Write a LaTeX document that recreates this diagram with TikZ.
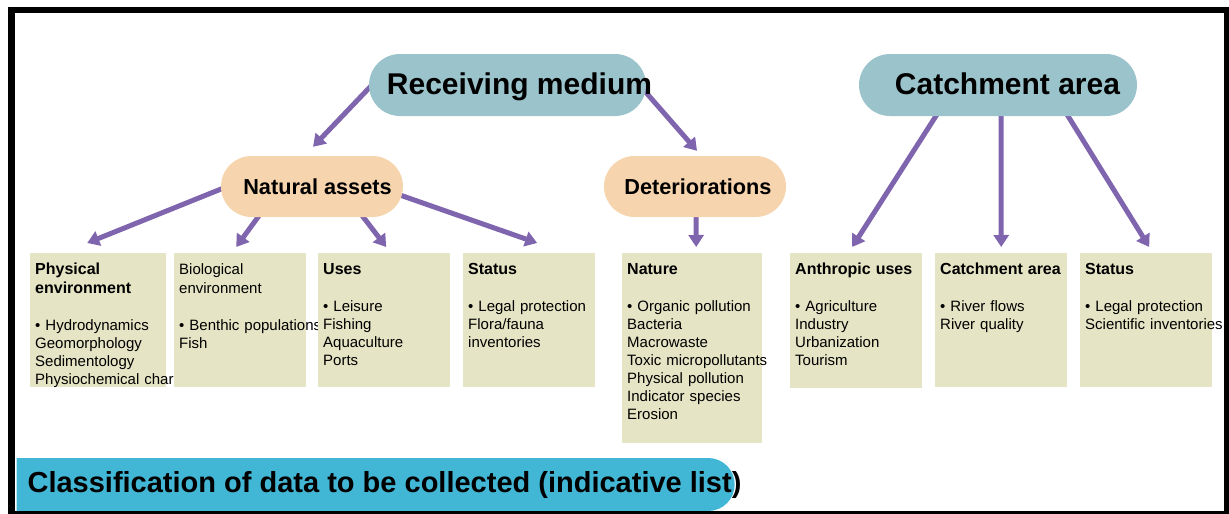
\documentclass[tikz,border=0pt]{standalone}
\usepackage{fontspec}
\setmainfont{Liberation Sans}
\usetikzlibrary{arrows.meta,shapes.misc,calc}
\pgfdeclarelayer{background}
\pgfsetlayers{background,main}

\definecolor{pillblue}{HTML}{9BC3CB}
\definecolor{peach}{HTML}{F6D4AE}
\definecolor{boxtan}{HTML}{E5E4C4}
\definecolor{linkpurple}{HTML}{7F64AE}
\definecolor{barblue}{HTML}{41B7D5}

% text set off-centre inside a fixed-size shape
\newcommand\offsettext[2]{\hspace*{#1}\makebox[0pt]{#2}}
\newcommand\boxhead[1]{{\fontsize{16}{18}\selectfont\bfseries #1}}
\newcommand\firstline{\rule{0pt}{21pt}}

\tikzset{
  toppill/.style={rounded rectangle, fill=pillblue, inner sep=0pt,
    minimum height=62pt, text height=22pt, text depth=2.5pt,
    font=\fontsize{30}{36}\selectfont\bfseries},
  midpill/.style={rounded rectangle, fill=peach, inner sep=0pt,
    minimum height=61pt, minimum width=182pt,
    font=\fontsize{21.7}{26}\selectfont\bfseries},
  databox/.style={anchor=north west, fill=boxtan, inner sep=0pt,
    minimum width=132pt, minimum height=134pt},
  boxtext/.style={anchor=north west, inner xsep=5pt, inner ysep=0pt,
    text width=122pt, align=left, font=\fontsize{15}{18}\selectfont},
  link/.style={draw=linkpurple, line width=5pt,
    -{Triangle[length=12pt,width=15pt]}},
}

\begin{document}
\begin{tikzpicture}[x=1pt,y=-1pt]
\useasboundingbox (0,0) rectangle (1229,514);
\clip (0,0) rectangle (1229,514);

% title bar
\node[rounded rectangle, rounded rectangle west arc=none, fill=barblue,
  inner sep=0pt, minimum width=718pt, minimum height=53pt,
  text height=21pt, text depth=5pt,
  font=\fontsize{29}{34}\selectfont\bfseries] (bar) at (374,484.5)
  {\offsettext{21pt}{Classification of data to be collected (indicative list)}};

% top level
\node[toppill, minimum width=277pt] (rm) at (507.5,85)
  {\offsettext{24pt}{Receiving medium}};
\node[toppill, minimum width=278pt] (ca) at (998,85)
  {\offsettext{19pt}{Catchment area}};

% second level
\node[midpill] (na) at (312,186.5) {\offsettext{11pt}{Natural assets}};
\node[midpill] (det) at (695,186.5) {\offsettext{6pt}{Deteriorations}};

% data boxes, left to right so each covers the overflow of the previous one
\node[databox, minimum width=136pt] (b1) at (30,253) {};
\node[boxtext, text width=126pt] (t1) at (b1.north west)
  {\firstline\boxhead{Physical}\\[1pt]\boxhead{environment}\\[19pt]
   \mbox{• Hydrodynamics}\\Geomorphology\\Sedimentology\\
   \mbox{Physiochemical characteristics}};

\node[databox] (b2) at (174,253) {};
\node[boxtext] (t2) at (b2.north west)
  {\firstline Biological\\[1pt]environment\\[19pt]
   \mbox{• Benthic populations}\\Fish};

\node[databox] (b3) at (318,253) {};
\node[boxtext] (t3) at (b3.north west)
  {\firstline\boxhead{Uses}\\[19pt]
   \mbox{• Leisure}\\Fishing\\Aquaculture\\Ports};

\node[databox] (b4) at (463,253) {};
\node[boxtext] (t4) at (b4.north west)
  {\firstline\boxhead{Status}\\[19pt]
   \mbox{• Legal protection}\\Flora/fauna\\inventories};

\node[databox, minimum width=140pt, minimum height=190pt] (b5) at (622,253) {};
\node[boxtext, text width=130pt] (t5) at (b5.north west)
  {\firstline\boxhead{Nature}\\[19pt]
   \mbox{• Organic pollution}\\Bacteria\\Macrowaste\\
   \mbox{Toxic micropollutants}\\Physical pollution\\Indicator species\\Erosion};

\node[databox, minimum height=135pt] (b6) at (790,253) {};
\node[boxtext] (t6) at (b6.north west)
  {\firstline\boxhead{\mbox{Anthropic uses}}\\[19pt]
   \mbox{• Agriculture}\\Industry\\Urbanization\\Tourism};

\node[databox] (b7) at (935,253) {};
\node[boxtext] (t7) at (b7.north west)
  {\firstline\boxhead{\mbox{Catchment area}}\\[19pt]
   \mbox{• River flows}\\River quality};

\node[databox] (b8) at (1080,253) {};
\node[boxtext] (t8) at (b8.north west)
  {\firstline\boxhead{Status}\\[19pt]
   \mbox{• Legal protection}\\\mbox{Scientific inventories}};

% connectors, kept behind the shapes they leave
\begin{pgfonlayer}{background}
  \draw[link] ($(rm.west)+(6,-3)$) -- ($(na.north)+(1,-9)$);
  \draw[link] ($(rm.east)+(-5,2)$) -- ($(det.north)+(2,-5)$);
  \draw[link] ($(na.west)+(9,-1)$) -- ($(b1.north)+(-11,-10)$);
  \draw[link] ($(na.south)+(-49,-7)$) -- ($(b2.north)+(-4,-6)$);
  \draw[link] ($(na.south)+(46,-7)$) -- ($(b3.north)+(2,-6)$);
  \draw[link] ($(na.east)+(-9,6.5)$) -- ($(b4.north)+(8,-10)$);
  \draw[link] ($(det.south)+(1,-5)$) -- ($(b5.north)+(4,-6)$);
  \draw[link] ($(ca.south)+(-59,-5)$) -- ($(b6.north)+(-4,-6)$);
  \draw[link] ($(ca.south)+(3,-6)$) -- ($(b7.north)+(0,-6)$);
  \draw[link] ($(ca.south)+(67,-5)$) -- ($(b8.north)+(3,-6)$);
\end{pgfonlayer}

% outer frame
\draw[line width=6.5pt] (11.5,10) rectangle (1227,514.5);
\end{tikzpicture}
\end{document}
